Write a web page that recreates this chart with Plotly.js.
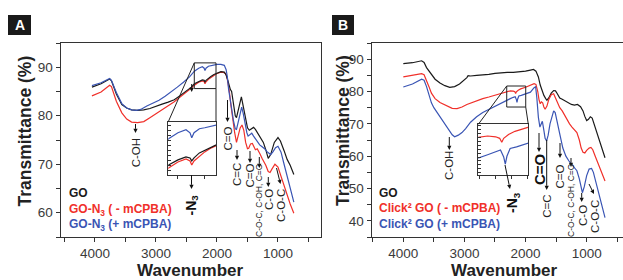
<!DOCTYPE html>
<html><head><meta charset="utf-8">
<script src="https://cdn.plot.ly/plotly-3.0.1.min.js"></script>
<style>html,body{margin:0;padding:0;background:#fff;} #chart{width:623px;height:280px;}</style>
</head><body><div id="chart"></div>
<script>
// ---------- Panel A data ----------
const A_GO_wn = [4050,3900,3760,3730,3650,3560,3480,3400,3300,3200,3100,3000,2900,2800,2700,2600,2500,2420,2370,2300,2240,2210,2197,2180,2140,2100,2050,2000,1935,1880,1850,1820,1800,1780,1760,1740,1700,1680,1640,1600,1570,1530,1500,1470,1430,1400,1370,1320,1280,1240,1200,1160,1120,1060,1000,960,900,850,800,740];
const A_GO_T  = [85.9,86.6,87.6,87.2,84.5,82.3,81.6,81.2,81.1,81.2,81.5,82.0,82.4,82.8,83.3,84.2,85.1,85.9,86.6,87.1,87.4,87.3,87.0,87.3,87.8,88.1,88.5,88.8,89.1,89.0,88.4,87.2,86.0,85.4,85.0,83.0,80.0,79.6,81.8,83.9,82.0,79.0,77.5,77.0,77.4,77.6,77.2,76.2,75.5,74.5,73.0,71.2,72.0,74.5,75.5,74.8,72.8,71.0,69.8,67.9];
const A_minus_wn = [4050,3900,3760,3730,3650,3560,3480,3400,3300,3200,3100,3000,2900,2800,2700,2600,2500,2420,2370,2300,2240,2210,2197,2180,2140,2100,2050,2000,1935,1880,1850,1830,1800,1770,1740,1710,1680,1650,1620,1590,1560,1530,1500,1480,1450,1420,1400,1370,1340,1320,1290,1260,1230,1200,1160,1130,1100,1050,1000,950,900,850,800,740];
const A_minus_T  = [84.1,84.9,86.3,86.0,83.0,80.6,79.3,78.7,78.6,78.8,79.6,80.4,81.2,82.0,82.9,83.9,84.8,85.7,86.3,86.9,87.2,87.0,86.6,87.0,87.5,87.9,88.3,88.7,89.0,88.9,88.5,87.5,85.3,82.0,79.0,76.5,74.5,75.8,77.5,78.1,77.0,74.5,73.2,73.3,74.2,74.3,73.8,73.0,73.2,72.8,72.0,71.2,70.5,69.8,68.5,68.3,69.0,70.0,69.4,67.5,65.5,63.5,61.8,59.9];
const A_plus_wn = [4050,3900,3760,3730,3650,3560,3480,3400,3320,3250,3150,3050,2950,2850,2750,2650,2550,2450,2370,2300,2240,2210,2197,2180,2140,2100,2050,2000,1935,1880,1850,1830,1810,1790,1760,1730,1700,1680,1650,1620,1595,1570,1540,1510,1490,1460,1430,1400,1370,1340,1300,1260,1220,1180,1150,1120,1080,1040,1000,950,900,850,800,740];
const A_plus_T  = [86.2,86.8,87.7,87.3,84.8,82.5,81.6,81.2,81.1,81.3,82.0,82.6,83.2,84.0,84.9,85.9,86.9,88.0,89.2,89.8,90.1,89.8,89.3,89.8,90.2,90.3,90.5,90.6,90.6,90.4,89.5,88.0,85.5,83.5,81.5,79.0,77.3,77.2,79.0,81.0,81.8,80.5,78.0,76.5,75.8,76.2,76.4,75.8,75.3,74.8,74.0,73.6,73.2,72.6,72.2,72.0,72.6,73.4,73.7,72.5,70.0,67.5,64.8,62.2];

// ---------- Panel B data ----------
const B_GO_wn = [4000,3850,3700,3660,3620,3560,3480,3400,3320,3240,3160,3080,3000,2960,2940,2900,2800,2700,2600,2500,2400,2300,2200,2100,2000,1920,1870,1830,1790,1760,1730,1700,1670,1650,1620,1580,1540,1510,1480,1440,1400,1360,1300,1250,1200,1150,1100,1060,1030,1000,970,940,910,880,850,800,750,700];
const B_GO_T  = [88.6,88.9,89.5,89.0,87.4,86.0,83.8,82.6,81.8,81.3,81.5,82.3,83.5,84.3,84.9,84.8,85.0,85.1,85.3,85.6,85.8,85.9,85.9,86.0,86.3,86.6,86.8,86.3,84.5,82.0,80.0,78.8,77.8,77.3,78.0,79.5,80.3,80.2,79.3,78.0,77.6,77.2,76.6,76.0,75.8,76.0,75.3,74.0,72.3,71.0,71.4,72.2,71.8,70.0,68.3,65.0,62.0,59.5];
const B_minus_wn = [4000,3850,3700,3660,3620,3580,3540,3480,3400,3300,3200,3120,3040,2960,2880,2800,2700,2600,2500,2400,2320,2250,2200,2175,2162,2150,2120,2080,2000,1920,1860,1830,1800,1780,1760,1740,1720,1700,1680,1650,1620,1580,1540,1510,1480,1440,1400,1360,1320,1280,1240,1200,1160,1120,1090,1060,1030,1000,960,930,900,860,820,780,740,700];
const B_minus_T  = [84.5,84.9,85.5,85.2,83.5,81.5,79.5,77.8,76.6,75.6,74.8,74.7,75.2,76.0,76.6,77.1,77.8,78.3,78.9,79.5,80.0,80.2,80.1,79.9,79.4,79.9,80.4,80.8,81.3,81.8,82.4,82.2,80.0,77.5,76.2,76.8,76.5,75.2,74.5,75.5,77.5,79.0,79.3,78.0,76.5,75.0,74.0,72.5,71.0,70.0,69.0,68.2,67.3,65.0,62.5,61.2,61.0,61.8,62.5,62.7,62.0,60.0,58.0,56.0,54.0,52.3];
const B_plus_wn = [4000,3850,3700,3660,3620,3580,3540,3500,3440,3380,3320,3260,3200,3160,3100,3040,2980,2900,2800,2700,2600,2500,2400,2320,2250,2200,2170,2150,2140,2130,2110,2070,2000,1920,1860,1835,1815,1790,1765,1745,1725,1700,1680,1655,1630,1600,1570,1540,1515,1490,1460,1430,1390,1340,1290,1250,1200,1160,1120,1090,1070,1040,1000,960,920,890,850,800,750,700];
const B_plus_T  = [81.4,82.3,83.8,83.5,81.5,79.0,76.5,75.0,73.3,71.8,70.2,68.3,66.6,66.0,66.5,67.3,68.5,70.5,72.2,73.5,74.5,75.5,76.5,77.3,77.8,78.2,78.4,77.5,76.6,77.6,78.6,78.8,79.2,79.8,81.2,81.5,78.0,72.0,69.0,70.0,70.8,68.0,65.5,64.7,66.5,70.0,72.5,74.0,73.5,71.5,68.5,66.0,62.5,60.0,58.5,57.5,56.5,55.5,53.0,50.0,48.7,50.5,54.0,56.0,56.2,55.0,52.0,48.0,44.5,41.0];

// ---------- labels ----------
const xTitle = 'Wavenumber';
const yTitle = 'Transmittance (%)';
const A_names = ['GO', 'GO-N<sub>3</sub> ( - mCPBA)', 'GO-N<sub>3</sub> (+ mCPBA)'];
const B_names = ['GO', 'Click² GO ( - mCPBA)', 'Click² GO (+ mCPBA)'];
// inset windows (data ranges)
const insetA_wn = [2372, 2016], insetA_T = [85.6, 90.9];
const insetB_wn = [2308, 1997], insetB_T = [75.2, 81.7];

// ---------- layout helpers ----------
const W = 623, H = 280;
const X = v => v / W, Y = v => 1 - v / H;
const FONT = 'Liberation Sans, Arial, Helvetica, sans-serif';
const COL = {k: '#1a1a1a', r: '#f0302a', b: '#3a55b4'};
const axA = {xd: [X(60.7), X(320.5)], xr: [4562, 303], yd: [Y(237), Y(43)], yr: [55, 95]};
const axB = {xd: [X(371.7), 1.0], xr: [4517, 405.6], yd: [Y(237), Y(43)], yr: [35, 95]};
const inA = {xd: [X(168.3), X(216)], yd: [Y(175), Y(121.7)]};
const inB = {xd: [X(478.3), X(528.3)], yd: [Y(175), Y(124.3)]};
function toP(ax, w, t) {
  return [ax.xd[0] + (w - ax.xr[0]) / (ax.xr[1] - ax.xr[0]) * (ax.xd[1] - ax.xd[0]),
          ax.yd[0] + (t - ax.yr[0]) / (ax.yr[1] - ax.yr[0]) * (ax.yd[1] - ax.yd[0])];
}

function tr(x, y, c, xa, ya) {
  return {x: x, y: y, type: 'scatter', mode: 'lines', line: {color: c, width: 1.2},
          xaxis: xa, yaxis: ya, hoverinfo: 'skip', showlegend: false};
}
const data = [
  tr(A_minus_wn, A_minus_T, COL.r, 'x', 'y'),
  tr(A_GO_wn, A_GO_T, COL.k, 'x', 'y'),
  tr(A_plus_wn, A_plus_T, COL.b, 'x', 'y'),
  tr(B_GO_wn, B_GO_T, COL.k, 'x2', 'y2'),
  tr(B_minus_wn, B_minus_T, COL.r, 'x2', 'y2'),
  tr(B_plus_wn, B_plus_T, COL.b, 'x2', 'y2'),
  tr(A_minus_wn, A_minus_T, COL.r, 'x3', 'y3'),
  tr(A_GO_wn, A_GO_T, COL.k, 'x3', 'y3'),
  tr(A_plus_wn, A_plus_T, COL.b, 'x3', 'y3'),
  tr(B_minus_wn, B_minus_T, COL.r, 'x4', 'y4'),
  tr(B_plus_wn, B_plus_T, COL.b, 'x4', 'y4')
];

const tickFont = {family: FONT, size: 13.5, color: '#3a3a3a'};
function mainX(ax, anchor, mirror) {
  return {domain: ax.xd, range: ax.xr, anchor: anchor, showline: true, linecolor: '#333', linewidth: 1.2,
    mirror: mirror, ticks: 'outside', ticklen: 4, tickcolor: '#333', dtick: 1000, tick0: 0,
    minor: {dtick: 500, ticks: 'outside', ticklen: 4, tickcolor: '#333'},
    tickfont: tickFont, showgrid: false, zeroline: false, fixedrange: true};
}
function mainY(ax, anchor, mirror) {
  return {domain: ax.yd, range: ax.yr, anchor: anchor, showline: true, linecolor: '#333', linewidth: 1.2,
    mirror: mirror, ticks: 'outside', ticklen: 4, tickcolor: '#333', dtick: 10, tick0: 0,
    minor: {dtick: 5, ticks: 'outside', ticklen: 4, tickcolor: '#333'},
    tickfont: tickFont, showgrid: false, zeroline: false, fixedrange: true};
}
function insX(d, r, anchor) {
  return {domain: d, range: r, anchor: anchor, showline: true, linecolor: '#333', linewidth: 1, mirror: true,
    ticks: 'outside', ticklen: 3, tickcolor: '#333', dtick: 100, showticklabels: false, showgrid: false, zeroline: false};
}
function insY(d, r, anchor) {
  return {domain: d, range: r, anchor: anchor, showline: true, linecolor: '#333', linewidth: 1, mirror: true,
    ticks: 'inside', ticklen: 2.5, tickcolor: '#333', dtick: 0.5, showticklabels: false, showgrid: false, zeroline: false};
}

const ann = [];
const shapes = [
  {type: 'rect', xref: 'paper', yref: 'paper', x0: X(8), x1: X(31), y0: Y(35), y1: Y(15), fillcolor: '#1a1a1a', line: {width: 0}, layer: 'below'},
  {type: 'rect', xref: 'paper', yref: 'paper', x0: X(332), x1: X(354), y0: Y(35), y1: Y(15), fillcolor: '#1a1a1a', line: {width: 0}, layer: 'below'},
  {type: 'rect', xref: 'x', yref: 'y', x0: insetA_wn[0], x1: insetA_wn[1], y0: insetA_T[0], y1: insetA_T[1], line: {color: '#222', width: 1}},
  {type: 'rect', xref: 'x2', yref: 'y2', x0: insetB_wn[0], x1: insetB_wn[1], y0: insetB_T[0], y1: insetB_T[1], line: {color: '#222', width: 1}}
];
function txt(cx, cy, t, size, color, bold, angle, anchor) {
  ann.push({x: X(cx), y: Y(cy), xref: 'paper', yref: 'paper', text: bold ? '<b>' + t + '</b>' : t,
    showarrow: false, textangle: angle || 0, xanchor: anchor || 'center', yanchor: 'middle',
    font: {family: FONT, size: size, color: color}});
}
// arrow drawn as a shaft line plus a filled triangular head (pixel positions -> paper)
function arr(hx, hy, tx, ty) {
  const dx = hx - tx, dy = hy - ty, L = Math.hypot(dx, dy), ux = dx / L, uy = dy / L;
  const hl = 4.2, hw = 2.1;
  const bx = hx - ux * hl, by = hy - uy * hl;
  shapes.push({type: 'line', xref: 'paper', yref: 'paper', x0: X(tx), y0: Y(ty), x1: X(bx), y1: Y(by),
    line: {color: '#111', width: 1}});
  const p1 = [bx - uy * hw, by + ux * hw], p2 = [bx + uy * hw, by - ux * hw];
  shapes.push({type: 'path', xref: 'paper', yref: 'paper',
    path: 'M' + X(hx) + ',' + Y(hy) + ' L' + X(p1[0]) + ',' + Y(p1[1]) + ' L' + X(p2[0]) + ',' + Y(p2[1]) + ' Z',
    fillcolor: '#111', line: {width: 0}});
}
// axis titles
txt(24.5, 131, yTitle, 17.5, '#222', true, -90);
txt(343, 131, yTitle, 17.5, '#222', true, -90);
txt(190.6, 270.5, xTitle, 17, '#222', true, 0);
txt(504, 270.5, xTitle, 17, '#222', true, 0);
// panel letters
txt(19.5, 25, 'A', 14, '#fff', true, 0);
txt(343, 25, 'B', 14, '#fff', true, 0);
// legends
txt(66.7, 193, A_names[0], 12, COL.k, true, 0, 'left');
txt(66.7, 209.5, A_names[1], 12, COL.r, true, 0, 'left');
txt(66.7, 225, A_names[2], 12, COL.b, true, 0, 'left');
txt(376.7, 192.7, B_names[0], 12, COL.k, true, 0, 'left');
txt(376.7, 208.3, B_names[1], 12, COL.r, true, 0, 'left');
txt(376.7, 224, B_names[2], 12, COL.b, true, 0, 'left');
// panel A band labels
txt(135.8, 152.5, 'C-OH', 11.5, '#222', false, -90); arr(135.5, 133, 135.5, 124);
txt(227.5, 139, 'C=O', 11.5, '#222', false, -90); arr(227.5, 122, 227.5, 100);
txt(191.5, 205, '-N<sub>3</sub>', 14, '#111', true, -90); arr(191.5, 189, 191.5, 175);
arr(191.7, 92, 191.7, 84);
txt(237, 175, 'C=C', 11.5, '#222', false, -90); arr(237, 160, 237, 150);
txt(249.5, 176, 'C=O', 11.5, '#222', false, -90); arr(250, 163, 250, 151);
txt(259, 200, 'C-O-C, C-OH, C=O', 8.5, '#222', false, -90); arr(259.3, 168, 259.3, 157);
txt(269, 200, 'C-O', 11.5, '#222', false, -90); arr(268.3, 187, 268.3, 177);
txt(281, 206, 'C-O-C', 11.5, '#222', false, -90); arr(280.5, 184, 276.5, 168);
// panel B band labels
txt(449, 166, 'C-OH', 11.5, '#222', false, -90); arr(449.3, 150, 449.3, 137);
txt(512.5, 202.5, '-N<sub>3</sub>', 14, '#111', true, -90); arr(510, 189, 505, 165);
txt(539, 169, 'C=O', 15, '#111', true, -90); arr(539, 152, 539, 133);
txt(546.7, 206, 'C=C', 11.5, '#222', false, -90); arr(546.7, 190, 546.7, 140);
txt(559.5, 177, 'C=O', 11.5, '#222', false, -90); arr(560, 158, 560, 143);
txt(571, 200, 'C-O-C, C-OH, C=O', 8.5, '#222', false, -90); arr(571, 167, 571, 158);
txt(583, 216, 'C-O', 11.5, '#222', false, -90); arr(581.7, 202, 581.7, 193);
txt(595, 217, 'C-O-C', 11.5, '#222', false, -90); arr(594, 194, 589, 184);

function conn(ax, w, t, qx, qy) {
  const p = toP(ax, w, t);
  shapes.push({type: 'line', xref: 'paper', yref: 'paper', x0: p[0], y0: p[1], x1: qx, y1: qy, line: {color: '#222', width: 1}});
}
conn(axA, insetA_wn[0], insetA_T[1], inA.xd[0], inA.yd[1]);
conn(axA, insetA_wn[1], insetA_T[0], inA.xd[1], inA.yd[1]);
conn(axB, insetB_wn[0], insetB_T[1], inB.xd[0], inB.yd[1]);
conn(axB, insetB_wn[1], insetB_T[0], inB.xd[1], inB.yd[1]);

const layout = {
  width: W, height: H, margin: {l: 0, r: 0, t: 0, b: 0}, paper_bgcolor: '#fff', plot_bgcolor: 'rgba(0,0,0,0)',
  showlegend: false, font: {family: FONT},
  xaxis: mainX(axA, 'y', true), yaxis: mainY(axA, 'x', true),
  xaxis2: mainX(axB, 'y2', true), yaxis2: mainY(axB, 'x2', false),
  xaxis3: insX(inA.xd, insetA_wn, 'y3'), yaxis3: insY(inA.yd, insetA_T, 'x3'),
  xaxis4: insX(inB.xd, insetB_wn, 'y4'), yaxis4: insY(inB.yd, insetB_T, 'x4'),
  annotations: ann, shapes: shapes
};
function dropEmptyTexts() {
  // remove the empty placeholder title elements Plotly creates for untitled axes
  document.querySelectorAll('#chart text').forEach(function (t) {
    if (!t.textContent.trim()) t.parentNode.removeChild(t);
  });
}
Plotly.newPlot('chart', data, layout, {staticPlot: true, displayModeBar: false}).then(function () {
  dropEmptyTexts();
  setTimeout(dropEmptyTexts, 50);
  setTimeout(dropEmptyTexts, 300);
});
</script></body></html>
